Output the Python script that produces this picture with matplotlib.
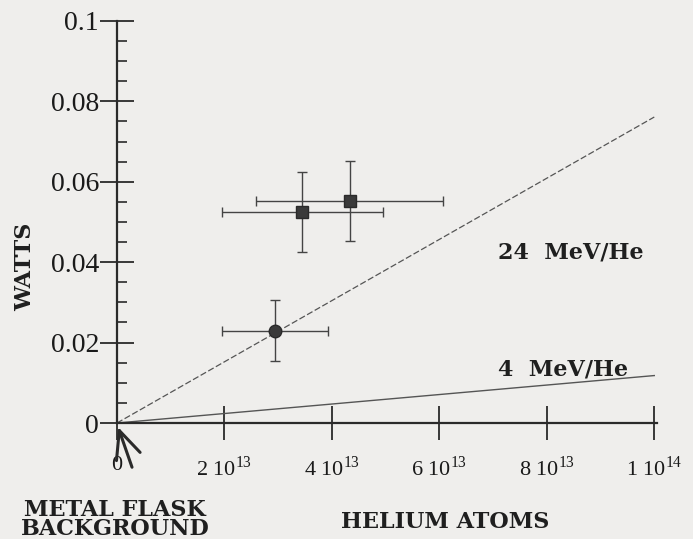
import matplotlib.pyplot as plt
import numpy as np

plt.rcParams['font.family'] = ['Liberation Serif', 'DejaVu Serif']
plt.rcParams['mathtext.fontset'] = 'custom'
plt.rcParams['mathtext.rm'] = 'Liberation Serif'

# data
sq_x = [3.45e13, 4.33e13]
sq_y = [0.0525, 0.0552]
sq_xerr = [1.5e13, 1.74e13]
sq_yerr = [0.010, 0.010]

circ_x = [2.94e13]
circ_y = [0.0229]
circ_xerr = [0.99e13]
circ_yerr = [0.0076]

line_x = [0, 1e14]
mev24_y = [0, 0.0761]
mev4_y = [0, 0.0118]

xticks = [0, 2e13, 4e13, 6e13, 8e13, 1e14]
xticklabels = ['0', '2 10$^{13}$', '4 10$^{13}$', '6 10$^{13}$', '8 10$^{13}$', '1 10$^{14}$']
yticks = [0, 0.02, 0.04, 0.06, 0.08, 0.1]
yticklabels = ['0', '0.02', '0.04', '0.06', '0.08', '0.1']

bg = '#efeeec'
ink = '#2a2a2a'
bold = dict(family='DejaVu Serif', fontweight='bold', color='#1f1f1f')

fig = plt.figure(figsize=(6.93, 5.39), dpi=100, facecolor=bg)
ax = fig.add_axes([0.1688, 0.2152, 0.7792, 0.746])
ax.set_facecolor(bg)

ax.plot(line_x, mev24_y, color='#555555', lw=0.9, ls=(0, (5, 2)))
ax.plot(line_x, mev4_y, color='#555555', lw=1.0)

ax.errorbar(sq_x, sq_y, xerr=sq_xerr, yerr=sq_yerr, fmt='s', color=ink,
            ms=9, mfc='#3a3a3a', mec=ink, ecolor='#444444', elinewidth=1.0,
            capsize=3.5, capthick=1.0)
ax.errorbar(circ_x, circ_y, xerr=circ_xerr, yerr=circ_yerr, fmt='o', color=ink,
            ms=9, mfc='#3a3a3a', mec=ink, ecolor='#444444', elinewidth=1.0,
            capsize=3.5, capthick=1.0)

ax.set_xlim(0, 1.005e14)
ax.set_ylim(0, 0.1)
for s in ['top', 'right']:
    ax.spines[s].set_visible(False)
for s in ['left', 'bottom']:
    ax.spines[s].set_linewidth(1.6)
    ax.spines[s].set_color(ink)

ax.set_xticks(xticks)
ax.set_xticklabels(xticklabels, fontsize=16)
ax.set_yticks(yticks)
ax.set_yticklabels(yticklabels, fontsize=20)
ax.set_yticks(np.arange(0, 0.1001, 0.005), minor=True)
ax.tick_params(axis='both', which='major', direction='inout', length=24,
               width=1.3, color=ink, labelcolor='#1a1a1a')
ax.tick_params(axis='x', which='major', pad=12)
ax.tick_params(axis='y', which='major', pad=1)
ax.tick_params(axis='y', which='minor', direction='in', length=7, width=1.2, color=ink)

ax.text(7.09e13, 0.0423, '24  MeV/He', fontsize=16, va='center', **bold)
ax.text(7.09e13, 0.0134, '4  MeV/He', fontsize=16, va='center', **bold)

fig.text(0.036, 0.505, 'WATTS', rotation=90, fontsize=16,
         ha='center', va='center', **bold)
fig.text(0.643, 0.032, 'HELIUM ATOMS', fontsize=16,
         ha='center', va='center', **bold)
fig.text(0.166, 0.075, 'METAL FLASK\nBACKGROUND', fontsize=16,
         ha='center', va='top', linespacing=0.85, **bold)

# arrow pointing at the origin (metal flask background)
ax.annotate('', xy=(0.02e13, -0.001), xytext=(0.28e13, -0.011),
            arrowprops=dict(arrowstyle='->,head_length=1.1,head_width=0.5',
                            color=ink, lw=2.2, mutation_scale=18,
                            shrinkA=0, shrinkB=0),
            annotation_clip=False)

fig.savefig('out.png', dpi=100, facecolor=bg)
